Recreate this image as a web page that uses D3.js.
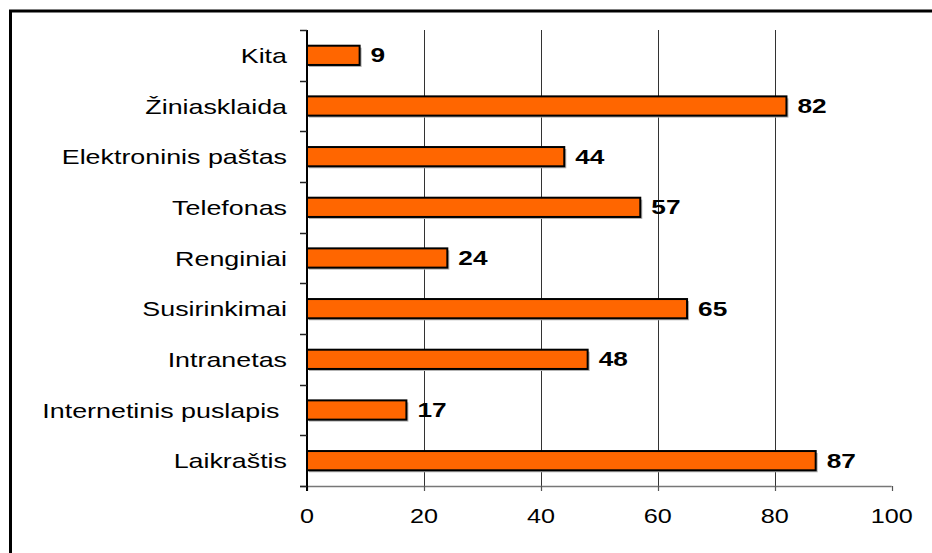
<!DOCTYPE html>
<html>
<head>
<meta charset="utf-8">
<script src="https://cdn.jsdelivr.net/npm/d3@7"></script>
<style>
  html, body { margin: 0; padding: 0; background: #fff; }
  svg { display: block; }
  text { font-family: "Liberation Sans", Arial, sans-serif; fill: #000; white-space: pre; }
</style>
</head>
<body>
<svg id="chart" width="932" height="553"></svg>
<script>
// Communication channels, listed bottom to top
const categories = ["Laikraštis", "Internetinis puslapis ", "Intranetas", "Susirinkimai",
                    "Renginiai", "Telefonas", "Elektroninis paštas", "Žiniasklaida", "Kita"];
const values = [87, 17, 48, 65, 24, 57, 44, 82, 9];
const xTicks = [0, 20, 40, 60, 80, 100];

const svg = d3.select("#chart");
const W = 932, H = 553;
const plot = { left: 307, right: 891.7, top: 30, bottom: 486 };

// Outer frame (continues past the page edges on the right and bottom)
svg.append("rect")
  .attr("x", 10.5).attr("y", 11)
  .attr("width", W + 20).attr("height", H + 20)
  .attr("fill", "none").attr("stroke", "#000").attr("stroke-width", 3);

const x = d3.scaleLinear().domain([0, 100]).range([plot.left, plot.right]);
const y = d3.scaleBand()
  .domain(categories.slice().reverse())
  .range([plot.top, plot.bottom])
  .paddingInner(0.62).paddingOuter(0.31);

// Vertical gridlines
svg.append("g").selectAll("line")
  .data(xTicks.filter(d => d > 0 && d < 100))
  .join("line")
  .attr("x1", d => Math.round(x(d)) + 0.5).attr("x2", d => Math.round(x(d)) + 0.5)
  .attr("y1", plot.top).attr("y2", plot.bottom)
  .attr("stroke", "#333").attr("stroke-width", 1);

// Bars with a soft drop shadow
const data = categories.map((c, i) => ({ c, v: values[i] }));
const bars = svg.append("g");
bars.selectAll("rect.shadow")
  .data(data).join("rect").attr("class", "shadow")
  .attr("x", x(0) + 2).attr("y", d => y(d.c) + 2)
  .attr("width", d => x(d.v) - x(0)).attr("height", y.bandwidth())
  .attr("fill", "#b0b0b0");
bars.selectAll("rect.bar")
  .data(data).join("rect").attr("class", "bar")
  .attr("x", x(0)).attr("y", d => y(d.c))
  .attr("width", d => x(d.v) - x(0)).attr("height", y.bandwidth())
  .attr("fill", "#FF6600").attr("stroke", "#000").attr("stroke-width", 2);

// Value labels
svg.append("g").selectAll("text")
  .data(data).join("text")
  .attr("transform", d => `translate(${x(d.v) + 11},${y(d.c) + y.bandwidth() / 2 + 7}) scale(1.25,1)`)
  .attr("font-size", 21).attr("font-weight", "bold")
  .text(d => d.v);

// X axis line and ticks
const xa = svg.append("g");
xa.append("line")
  .attr("x1", plot.left - 7).attr("x2", plot.right)
  .attr("y1", plot.bottom + 0.5).attr("y2", plot.bottom + 0.5)
  .attr("stroke", "#777").attr("stroke-width", 1.5);
xa.selectAll("line.tick")
  .data(xTicks).join("line").attr("class", "tick")
  .attr("x1", d => Math.round(x(d)) + 0.5).attr("x2", d => Math.round(x(d)) + 0.5)
  .attr("y1", plot.bottom).attr("y2", plot.bottom + 5)
  .attr("stroke", "#555").attr("stroke-width", 1.2);
xa.selectAll("text")
  .data(xTicks).join("text")
  .attr("transform", d => `translate(${x(d)},${plot.bottom + 37.3}) scale(1.2,1)`)
  .attr("text-anchor", "middle").attr("font-size", 21)
  .text(d => d);

// Y axis line, category boundary ticks and labels
const ya = svg.append("g");
ya.append("line")
  .attr("x1", plot.left).attr("x2", plot.left)
  .attr("y1", plot.top).attr("y2", plot.bottom + 5)
  .attr("stroke", "#000").attr("stroke-width", 2);
const bounds = d3.range(categories.length + 1).map(i => plot.top + i * y.step());
ya.selectAll("line.tick")
  .data(bounds).join("line").attr("class", "tick")
  .attr("x1", plot.left - 7).attr("x2", plot.left)
  .attr("y1", d => Math.round(d) + 0.5).attr("y2", d => Math.round(d) + 0.5)
  .attr("stroke", "#222").attr("stroke-width", 1.5);
ya.selectAll("text")
  .data(categories).join("text")
  .attr("transform", d => `translate(287,${y(d) + y.bandwidth() / 2 + 7.5}) scale(1.31,1)`)
  .attr("text-anchor", "end").attr("font-size", 20.5)
  .text(d => d);
</script>
</body>
</html>
